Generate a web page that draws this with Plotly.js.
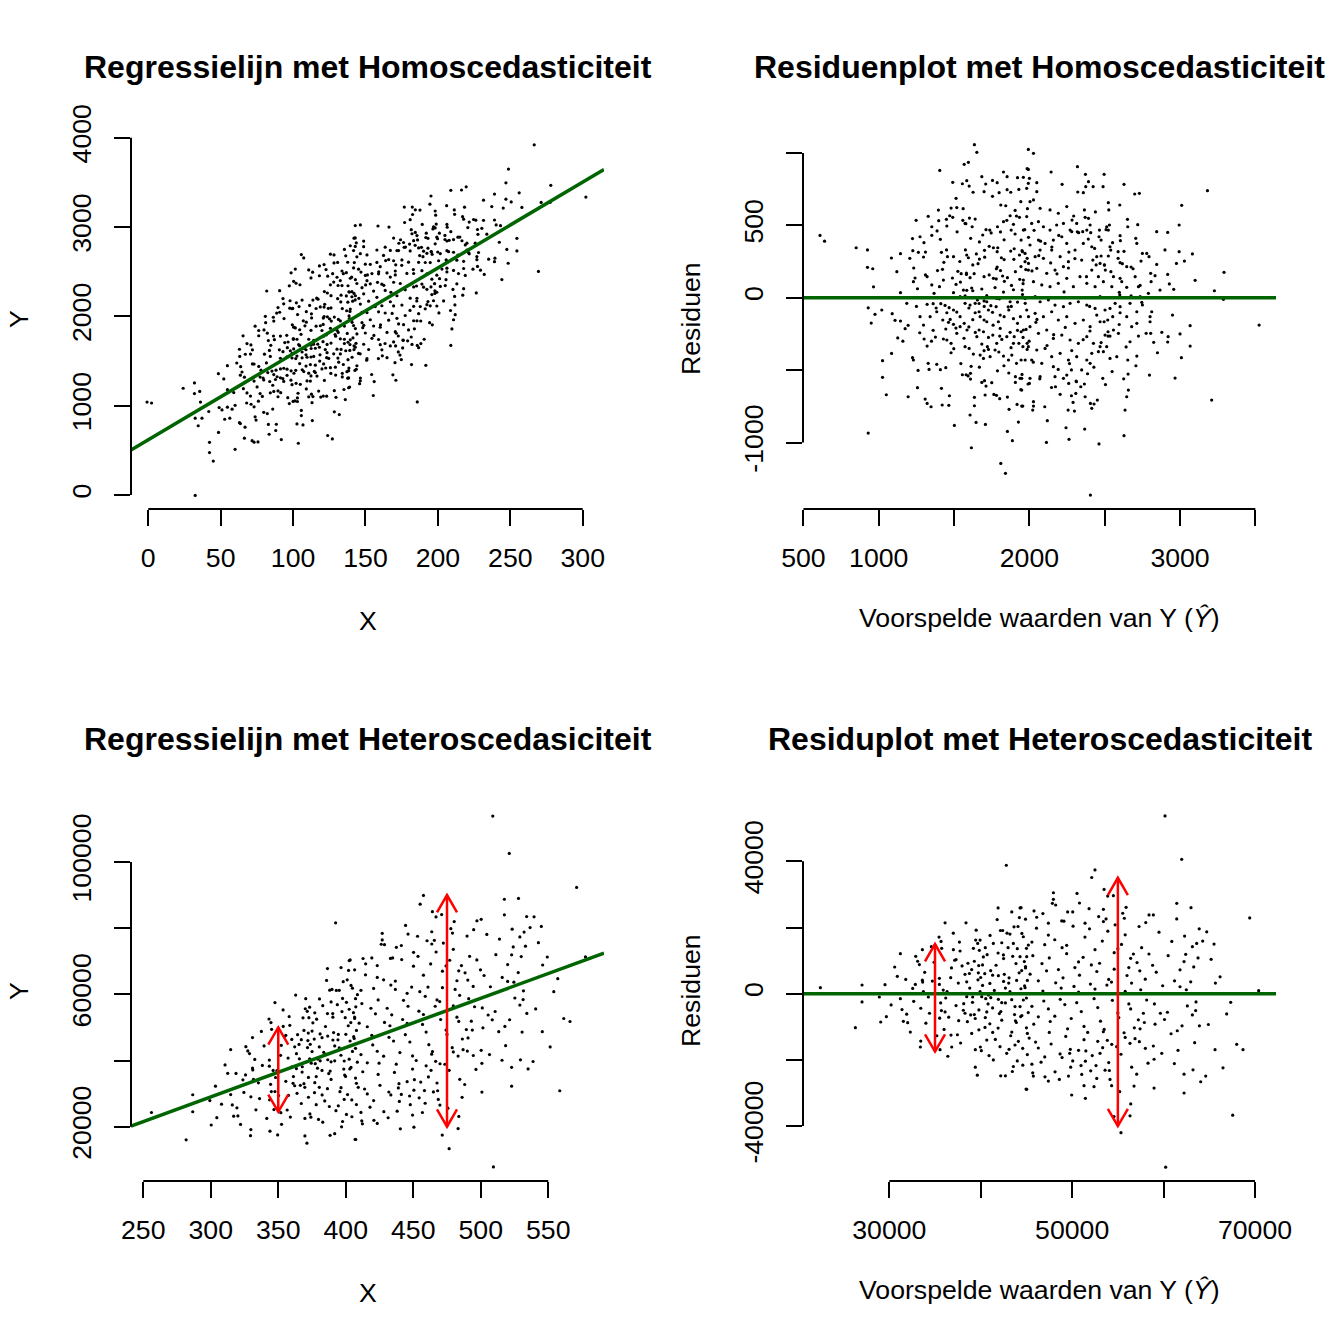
<!DOCTYPE html>
<html>
<head>
<meta charset="utf-8">
<script src="https://cdn.plot.ly/plotly-3.0.1.min.js"></script>
<style>html,body{margin:0;padding:0;background:#fff;}#chart{width:1344px;height:1344px;}</style>
</head>
<body>
<div id="chart"></div>
<script>
// ---------------- DATA ----------------
// Homoscedastic model: fitted values (Ŷ) and residuals
const homoFitted = [
610,640,850,925,925,960,965,930,975,950,1020,930,1025,1025,1050,1085,1089,1108,1126,1144,
1175,1195,1144,1084,1144,1206,1226,1248,1263,1297,1310,1328,1224,1274,1352,1387,1398,1409,1449,1452,
1471,1480,1491,1513,1560,1558,1578,1602,1620,1640,1232,1241,1257,1310,1321,1390,1423,1416,1432,1456,
1496,1321,1361,1381,1412,1440,1467,1452,1474,1496,1518,1425,1463,1445,1429,1452,1480,1498,1518,1496,
1540,1567,1586,1598,1624,1598,1640,1666,1272,1301,1321,1376,1361,1224,1230,1261,1328,1334,1385,1409,
1445,1257,1195,1308,1321,1347,1416,1421,1465,1469,1502,1555,1580,1609,1613,1609,1635,1635,1606,1646,
1615,1684,1702,1706,1708,1750,1764,1781,1803,1810,1841,1854,1865,1887,1854,1863,1907,1918,1927,1943,
1938,1949,1991,1972,1985,1635,1651,1567,1595,1405,1491,1555,1584,1600,1684,1710,1755,1786,1828,1852,
1852,1799,1755,1699,1626,1985,2000,1921,1930,1876,1810,1843,1943,1987,1905,1872,1914,1934,1828,1850,
1788,1808,1737,1746,1690,1879,1894,1969,1994,1573,1518,1396,1352,1573,1496,1513,1542,1562,1584,1617,
1624,1666,1684,1699,1717,1744,1772,1801,1828,1859,1894,1921,1954,1489,1525,1547,1582,1606,1633,1624,
1668,1699,1733,1761,1786,1808,1834,1854,1881,1907,1936,1958,1976,1994,1584,1595,1648,1702,1733,1761,
1786,1814,1832,1876,1899,1934,1954,1985,1573,1606,1640,1673,1699,1728,1755,1779,1806,1832,1863,1894,
1921,1945,1978,1666,1695,1728,1757,1783,1817,1850,1872,1899,1930,1958,1985,1673,1699,1728,1739,1772,
1797,1828,1861,1883,1914,1945,1573,1600,1628,1695,1721,1385,1352,1403,1429,1367,1230,1186,1274,1297,
1341,1540,1655,1783,1872,1972,1717,1540,1651,1806,1894,1994,1717,1794,
1993,2027,1993,1960,1993,2049,1982,2049,2027,2004,2144,2217,2319,2372,2392,2423,2374,2321,2358,2496,
2489,2628,2699,2730,2600,2524,2527,2438,2365,2294,2283,2270,2281,2327,2354,2370,2392,2403,2381,2407,
2465,2462,2476,2513,2524,2531,2651,2653,2719,2602,2604,2535,2540,2524,2476,2443,2469,2498,2504,2589,
2589,2602,2675,2706,2713,2750,2779,2794,2741,2805,2834,2845,2918,2845,2994,3011,3182,2994,2976,3029,
3082,2918,2929,2958,2867,2808,2790,2735,2746,2675,2602,2613,2646,2597,3292,3228,3288,3525,3210,3067,
3067,3009,2967,2797,2921,2918,2879,2825,2805,2775,2812,2801,2801,2713,2724,2713,2668,2653,2657,2646,
2635,2628,2655,2602,2535,2553,2520,2496,2469,2502,2522,2469,2491,2458,2535,2580,2487,2462,2451,2429,
2414,2405,2367,2370,2341,2365,2312,2279,2243,2263,2299,2257,2290,2308,2279,2261,2248,2204,2173,2119,
2113,2102,2027,2027,2022,1956,2000,2004,1949,1949,2405,
1982,2015,2060,2093,2137,2181,2215,2159,2104,2060,2004,1971,2038,2093,2148,2204,2259,2226,2170,2115,
2049,1993,1960,2027,2082,2137,2192,2248,2292,2336,2381,2436,2491,2547,1971,2038,2071,2126,2170,2226,
2270,2325,2381,2436,1982,2038,2093,2148,2192,2248,2303,2358,2403,1960,2004,2060,2115,2159,2215,2270,
2325,2381,2425,1993,2049,2104,2148,2204,2259,2314,2381,2414,2015,2082,2071,2159,2226,2170,2347,2403,
2513,2535,2558,2591,2447,2502,2569,2602,2646,2679,2713,2668,2735,2469,2558,2646,2702,2724,2414,2458,
2347,2303,2248,2358,2414,2447,2192,2137,2071,2248,2314,1960,1945,1971,1952,1940,1957,2226,2071,
1520,1575,1610,1668,1712,1790,1832,1905,1951,2031,2074,2149,2195,2262,2318,2391,2433,2509,2552,2628,
1538,1582,1659,1703,1781,1822,1897,1944,2017,2062,2141,2183,2259,2302,2379,2421,2498,2541,2617,2688,
1512,1566,1641,1684,1759,1803,1878,1921,1998,2043,2117,2161,2238,2281,2357,2402,2476,2522,2596,2642,
1545,1593,1668,1712,1788,1831,1907,1951,2026,2069,2147,2191,2266,2310,2386,2428,2505,2549,2626,2707,
1450,1480,1350,1300,1250,1160,1120,2750,2850,2900,3000,3100,2950,1880,2230,2400,1700,2600,1780,2050
];
const homoResid = [
430,390,345,330,210,200,75,-70,-115,-175,-85,-935,-435,-550,-670,-385,-110,-156,-278,-161,
-214,-191,35,274,304,272,325,534,313,281,315,562,408,421,431,461,532,403,541,495,
566,619,555,686,615,534,511,550,490,543,205,136,62,157,145,187,196,313,244,283,
283,-46,-41,-71,-41,-53,-69,-104,-150,-85,-99,-154,-170,-216,-285,-292,-315,-352,-246,-184,
-131,-177,-223,-202,-152,-71,-39,-97,-242,-285,-334,-272,-225,-414,-430,-502,-453,-495,-460,-497,
-483,-621,-684,-700,-730,-753,-626,-741,-743,-677,-882,-532,-532,-522,-474,-562,-688,-746,-810,-861,
-1036,-585,-573,-672,-875,-587,-668,-674,-697,-1144,-1213,-686,-771,-987,-923,-520,-545,-737,-859,-635,
-557,-748,-596,-430,-357,1057,1004,921,935,879,797,787,808,771,836,785,810,794,868,836,
746,725,700,732,728,891,824,829,748,728,640,635,663,615,603,566,564,555,525,534,
490,454,467,447,433,467,507,470,417,513,622,605,490,12,35,92,108,53,51,67,
48,-40,60,-22,14,-55,70,-8,39,-63,55,-30,22,136,182,166,161,138,166,226,
267,145,157,134,212,187,113,138,85,180,127,97,194,237,295,276,302,327,355,345,
318,276,263,322,338,295,318,272,-39,-51,-104,-131,-154,-85,-101,-62,-120,-131,-85,-145,
-177,-235,-219,-223,-235,-274,-258,-315,-288,-269,-239,-269,-315,-274,-315,-396,-366,-357,-407,-361,
-375,-403,-430,-396,-453,-430,-338,-350,-389,-419,-338,-97,88,76,122,30,111,-39,-131,-189,
-131,7,-16,-5,-28,-39,-28,-200,-269,-212,-315,-131,-166,-166,
1024,997,886,831,790,794,755,732,675,663,868,783,905,852,801,767,767,730,725,852,
767,783,716,721,640,656,606,592,606,564,536,467,456,449,456,555,548,502,467,449,
467,421,398,490,467,502,541,490,504,428,394,352,329,288,288,226,237,226,191,318,
272,242,212,410,375,306,306,283,253,168,152,230,451,456,502,638,739,318,237,253,
302,161,95,58,53,111,30,85,-32,12,134,111,72,37,175,48,-11,-189,-707,-193,
-334,-414,-555,-534,-269,-306,-239,-308,-246,-246,-97,-131,-166,-177,-265,-403,-304,-430,-638,-684,
-776,-953,-527,-104,-74,-131,-154,-166,-166,-258,-235,-338,-373,-373,-419,-407,-557,-1010,-707,-734,
-764,-730,-907,-684,-615,-596,-580,-677,-898,-978,-783,-776,-723,-661,-499,-592,-534,-667,-615,-849,
-999,-753,-748,-718,-776,-748,-592,-557,-557,-638,-1363,
560,513,525,490,467,502,421,398,375,398,364,306,283,272,329,283,249,214,191,168,
203,191,122,111,88,76,99,134,76,145,99,76,111,76,-5,7,-28,-16,-51,-62,
-39,-28,-51,-74,-85,-108,-131,-97,-154,-131,-177,-154,-200,-223,-200,-246,-223,-281,-258,-292,
-315,-269,-315,-338,-361,-350,-407,-384,-430,-407,-430,-384,-430,-453,-545,-476,-557,-545,-499,-453,
-338,-265,-223,-246,-120,-85,-39,-62,-131,-200,-97,-39,7,7,145,214,145,76,191,145,
260,329,375,375,352,283,583,606,617,629,513,467,398,249,53,-131,-338,513,329,
455,330,410,385,470,345,400,440,325,465,390,350,430,315,455,405,340,470,380,320,
250,170,235,280,200,150,265,215,185,290,240,165,205,270,145,260,225,180,235,200,
-210,-280,-240,-320,-190,-265,-345,-225,-300,-170,-330,-255,-205,-365,-290,-230,-310,-265,-185,-340,
-455,-540,-480,-610,-505,-470,-585,-530,-445,-560,-620,-495,-455,-575,-525,-480,-600,-510,-560,-470,
330,-380,-300,380,-60,-300,180,-50,-380,330,-250,120,-120,-60,40,-60,-60,20,130,-150
];
// Heteroscedastic model: fitted values (Ŷ) and residuals
const heteroFitted = [
22460,27020,27020,28910,29530,26290,29060,29680,30590,30880,31210,31210,31390,31540,32010,31900,32670,32890,33290,33440,
33620,33620,33650,33730,33870,32560,32850,33440,33400,34270,34710,34900,35440,35660,35730,36100,35480,35480,35510,35550,
35620,35700,35990,36100,36170,36320,36500,36720,36750,36830,37010,37150,37300,37450,37550,37670,37740,37590,37960,38140,
38100,38280,38390,38470,38540,38760,39010,39120,39200,39300,39410,39410,39630,39450,39670,39740,39780,39850,39960,40070,
40110,40290,40440,40470,40550,40660,40910,41020,41090,41310,41490,41680,41900,41930,41930,42040,42190,42150,42300,42400,
42480,42580,42700,42800,42880,42990,43060,43200,43280,43390,43460,43570,43640,43750,43860,43930,44000,44080,44120,44230,
44300,44370,44480,44590,44660,44770,44850,44960,45030,45100,45210,
38800,39700,40200,41000,41300,42500,43100,44400,45100,
39100,39800,40800,41300,42200,42700,43700,44300,45200,
39400,40500,41000,41900,42300,43400,43900,45000,
39300,40200,40700,41900,42500,43500,44000,44900,
39930,41380,43570,44660,44300,41750,43200,40840,39930,38470,37920,38280,39010,40660,42110,43750,42840,41380,
60160,61980,52500,52140,53490,53890,54510,50530,47950,47950,47840,44410,45830,46120,49510,50060,51850,51410,48860,47400,
53420,53710,53420,55530,55710,58410,58880,58050,57320,61440,61440,63000,64720,64280,63620,63150,65520,63770,63300,62420,
62240,62970,62490,61800,66180,65670,70400,69420,67340,68000,68690,67560,65630,64610,64060,63220,62240,62240,61580,61180,
62020,60820,63920,63510,63150,63550,60420,59650,59070,59800,58960,58880,58960,60230,58150,58010,58300,57350,56880,56510,
57060,56410,56330,56770,55340,54580,54320,54140,54070,54870,55340,56330,55680,56800,57430,57240,57790,52690,52390,51450,
49950,52030,51050,49840,48600,47030,45760,45690,45030,46600,48130,48680,49730,50060,50970,51450,52610,53050,53340,53410,53850,54330,
44500,45600,46100,47400,48100,49400,50100,51400,51900,53300,53900,55400,55800,
45000,45700,47000,47500,48900,49400,50700,51200,52500,53000,54600,55000,56400,56700,
44900,45400,46700,47200,48500,49000,50300,50800,52100,52700,54000,54600,56000,56500,57400,
44800,46300,46800,48200,48800,50200,50700,52000,52500,53800,54300,55800,57500,
45000,45600,46900,47400,48700,49200,50500,51000,52400,52800,54400,55000,56200,
44500,45800,46300,47600,48100,49500,49900,51300,51700,53100,53500,55100,
45300,46000,47500,47700,49300,49800,51300,51500,52800,45100,47000,
58400,59200,60500,61200,59900,58800,57600,60900,61800,59000,57100,58000,60100,61500,62600,57900,56400,56200,62300,59500,
44900,46800,48200,49100,50800,52900,54700,55900,45600,47400,49600,51300,53600,55200,46300,48900,50700,52200,54000,55800,
38600,39800,40500,41600,42300,43100,44200,38900,40000,41100,42700,43800,44600,39500,41800,43400,37300,36800,35900,34400,
30200,31800,32300,33100,34000,34600,35200,36400,37000,37800,63400,64900,66500,65200,66900,63900
];
const heteroResid = [
1830,2630,-2500,-1000,2730,-10260,-8550,-6940,8070,5250,12100,-1500,-4800,-8350,-8750,-6200,-2300,11300,8800,-4400,
13300,4100,3500,600,6450,1600,2800,-14300,-16100,-1000,3800,9500,17100,15800,13700,21400,4650,2800,-7400,-16900,
-2800,-5100,-10800,-5500,-1300,600,-7100,4850,-12500,-16100,13300,10100,10300,-12400,3200,15600,12900,-8150,8400,-3000,
-5000,5850,21400,3600,-8450,6100,7300,-1000,13700,-6300,-16900,-22200,-24600,16200,15200,6300,8500,13100,-16100,-17200,
-900,11100,6050,-10200,-1500,-5500,-18700,17600,6950,-11700,1000,8600,25900,5450,-1700,-6000,-24800,19100,-2700,19100,
11700,5850,-24800,38800,18300,13900,3200,18000,-12700,-1800,-23500,-22000,20200,-3900,9100,4000,-20300,20300,-14400,23000,
25900,-6900,7000,-16500,-1900,9700,1800,-28800,11200,-12000,14700,
1700,4200,2500,3100,5600,3700,4800,1500,4000,
-2600,-4900,-3100,-4300,-5400,-2800,-6300,-3900,-5700,
-7500,-7200,-9100,-10400,-8000,-11600,-8700,-10300,
9800,8700,11800,12300,10600,11300,13600,7800,
16200,15200,15200,17200,11200,100,600,-400,600,-900,100,-5900,-12000,-14000,-16000,-15500,-18000,-20000,
53700,40600,37400,35100,31500,29500,29600,30300,30500,28500,27300,26000,25000,23100,24700,24700,25700,21300,22000,21300,
25500,22600,21800,24300,22800,23800,23800,21500,20300,27300,22600,26000,18700,15900,15200,14200,15000,10800,8100,11900,
9700,3600,1200,2100,5100,3200,900,22900,-2600,-15300,-16900,-36700,-16900,-24900,-26600,-23000,-24300,-30000,-17100,-21100,
-9700,-12100,-9700,-5100,-6400,-2500,-5600,-5900,-9200,-18000,-19800,-15800,-28500,-52400,-1900,-16500,-21000,-14500,-13600,-22200,
-24300,-33300,-36900,-27900,-41980,-37100,-27800,-25900,-23200,-16000,-18300,-15000,-11800,-10300,-10600,-7900,-5900,-25600,-28100,-31600,
-30600,-23300,-24400,-22200,-25900,-25100,-24900,-23900,-28900,-20700,-23600,-18200,-18000,-20300,-21700,-20400,-21700,-18000,-16300,-11500,-14100,-15300,
18200,15600,19800,17700,16300,14600,20400,17100,19600,15900,18900,14900,17800,
13700,11500,14800,10800,13900,12100,9600,11000,13300,9200,12400,13600,10700,12000,
8200,5900,9100,6900,7300,4800,7900,5600,8700,6700,4300,7400,5500,3200,6900,
2400,3900,800,3300,1700,2200,500,2900,1400,2600,3500,700,1200,
-1300,-3800,-2200,-4600,-1700,-3300,-2700,-5400,-1500,-4200,-2000,-5800,-3100,
-6600,-9200,-7000,-8400,-6800,-10600,-7500,-9900,-11700,-8300,-10800,-7200,
-13400,-14600,-11700,-15200,-12900,-16800,-13900,-17300,-14400,-18400,-19100,
12000,6500,11500,3900,2400,8600,13900,15800,7200,-3100,9400,4400,-7800,-11200,-3700,-8700,-4600,7900,17400,18600,
22500,24200,26800,21900,27400,23300,20800,26100,-21300,-26400,-24900,-27800,-23100,-29600,-16400,-19300,-17100,-18700,-20800,-13200,
9200,-10900,13900,-13800,15400,-16800,6300,-6400,4900,-1200,1700,-8200,-21600,19200,22400,24700,-3600,7800,1100,-5900,
-3400,4300,-11600,9800,-8900,14200,-12700,-18900,18300,-14900,-14800,-9300,-22400,10400,-6100,19600
];
// fitted regression lines: [intercept, slope]
const homoCoef = [618, 9.62];
const heteroCoef = [-15718, 149.1];
// red arrows (spread of Y around the line)
const arrowRegX = [350, 475];
const arrowRegLow = [24500, 20000];
const arrowRegHigh = [50000, 90000];
const arrowResX = [35000, 55000];
const arrowResLow = [-17500, -40000];
const arrowResHigh = [15000, 35000];
// tick values and labels
const p1XTicks = [0, 50, 100, 150, 200, 250, 300];
const p1YTicks = [0, 1000, 2000, 3000, 4000];
const p2XTicks = [500, 1000, 1500, 2000, 2500, 3000, 3500];
const p2XLabels = ['500', '1000', '', '2000', '', '3000', ''];
const p2YTicks = [-1000, -500, 0, 500, 1000];
const p2YLabels = ['-1000', '', '0', '500', ''];
const p3XTicks = [250, 300, 350, 400, 450, 500, 550];
const p3YTicks = [20000, 40000, 60000, 80000, 100000];
const p3YLabels = ['20000', '', '60000', '', '100000'];
const p4XTicks = [30000, 40000, 50000, 60000, 70000];
const p4XLabels = ['30000', '', '50000', '', '70000'];
const p4YTicks = [-40000, -20000, 0, 20000, 40000];
const p4YLabels = ['-40000', '', '0', '', '40000'];
const titles = ['Regressielijn met Homoscedasticiteit', 'Residuenplot met Homoscedasticiteit',
                'Regressielijn met Heteroscedasiciteit', 'Residuplot met Heteroscedasticiteit'];
const xLabels = ['X', 'Voorspelde waarden van Y (<i>Ŷ</i>)', 'X', 'Voorspelde waarden van Y (<i>Ŷ</i>)'];
const yLabels = ['Y', 'Residuen', 'Y', 'Residuen'];

if (homoFitted.length !== homoResid.length) throw new Error('homo length mismatch ' + homoFitted.length + ' ' + homoResid.length);
if (heteroFitted.length !== heteroResid.length) throw new Error('hetero length mismatch ' + heteroFitted.length + ' ' + heteroResid.length);

// observed X and Y reconstructed from fitted value + residual
const homoX = homoFitted.map(f => (f - homoCoef[0]) / homoCoef[1]);
const homoY = homoFitted.map((f, i) => f + homoResid[i]);
const heteroX = heteroFitted.map(f => (f - heteroCoef[0]) / heteroCoef[1]);
const heteroY = heteroFitted.map((f, i) => f + heteroResid[i]);

// ---------------- LAYOUT ----------------
const FONT = 'Liberation Sans, Arial, Helvetica, sans-serif';
const W = 1344, H = 1344;
const colPx = [[131, 604], [803, 1276]];
const rowPx = [[130, 509], [802, 1181]];
const xDom = c => [colPx[c][0] / W, colPx[c][1] / W];
const yDom = r => [1 - rowPx[r][1] / H, 1 - rowPx[r][0] / H];

const panels = [
  {id: '', col: 0, row: 0, xr: [-11.9, 314.7], yr: [-157, 4087], xt: p1XTicks, xl: p1XTicks.map(String), yt: p1YTicks, yl: p1YTicks.map(String)},
  {id: '2', col: 1, row: 0, xr: [497, 3637], yr: [-1459, 1158], xt: p2XTicks, xl: p2XLabels, yt: p2YTicks, yl: p2YLabels},
  {id: '3', col: 0, row: 1, xr: [240.9, 591.3], yr: [3590, 118126], xt: p3XTicks, xl: p3XTicks.map(String), yt: p3YTicks, yl: p3YLabels},
  {id: '4', col: 1, row: 1, xr: [20561, 72297], yr: [-56586, 57915], xt: p4XTicks, xl: p4XLabels, yt: p4YTicks, yl: p4YLabels}
];

const layout = {
  width: W, height: H, margin: {l: 0, r: 0, t: 0, b: 0, pad: 0},
  paper_bgcolor: '#fff', plot_bgcolor: '#fff', showlegend: false,
  font: {family: FONT, size: 26.67, color: '#000'},
  annotations: [], shapes: []
};

function baseAxis() {
  return {
    autorange: false, tickmode: 'array', ticks: 'outside', ticklen: 16, tickwidth: 2, tickcolor: '#000',
    showline: false, showgrid: false, zeroline: false, fixedrange: true,
    tickfont: {family: FONT, size: 26.67, color: '#000'}
  };
}

panels.forEach((p, k) => {
  const xd = xDom(p.col), yd = yDom(p.row);
  layout['xaxis' + p.id] = Object.assign(baseAxis(), {
    domain: xd, range: p.xr, anchor: 'y' + p.id, tickvals: p.xt, ticktext: p.xl, tickangle: 0, ticklabelstandoff: 9
  });
  layout['yaxis' + p.id] = Object.assign(baseAxis(), {
    domain: yd, range: p.yr, anchor: 'x' + p.id, tickvals: p.yt, ticktext: p.yl, tickangle: -90, ticklabelstandoff: 12
  });
  const px = v => xd[0] + (v - p.xr[0]) / (p.xr[1] - p.xr[0]) * (xd[1] - xd[0]);
  const py = v => yd[0] + (v - p.yr[0]) / (p.yr[1] - p.yr[0]) * (yd[1] - yd[0]);
  // R-style axis lines spanning first to last tick
  layout.shapes.push({type: 'line', xref: 'paper', yref: 'paper', x0: px(p.xt[0]), x1: px(p.xt[p.xt.length - 1]), y0: yd[0], y1: yd[0], line: {color: '#000', width: 2}});
  layout.shapes.push({type: 'line', xref: 'paper', yref: 'paper', x0: xd[0], x1: xd[0], y0: py(p.yt[0]), y1: py(p.yt[p.yt.length - 1]), line: {color: '#000', width: 2}});
  const cx = (xd[0] + xd[1]) / 2;
  const rowOff = p.row * 672;
  layout.annotations.push({xref: 'paper', yref: 'paper', x: cx, y: 1 - (67 + rowOff) / H, xanchor: 'center', yanchor: 'middle', showarrow: false,
    text: '<b>' + titles[k] + '</b>', font: {family: FONT, size: 32, color: '#000'}});
  layout.annotations.push({xref: 'paper', yref: 'paper', x: cx, y: 1 - ((p.col ? 618 : 621) + rowOff) / H, xanchor: 'center', yanchor: 'middle', showarrow: false,
    text: xLabels[k], font: {family: FONT, size: 26.67, color: '#000'}});
  layout.annotations.push({xref: 'paper', yref: 'paper', x: (19 + p.col * 672) / W, y: 1 - (319 + rowOff) / H, xanchor: 'center', yanchor: 'middle', showarrow: false,
    text: yLabels[k], textangle: -90, font: {family: FONT, size: 26.67, color: '#000'}});
});

// red double-headed arrows
const RED = '#ff0000';
function addArrow(xref, yref, x, lo, hi) {
  layout.shapes.push({type: 'line', xref: xref, yref: yref, x0: x, x1: x, y0: lo, y1: hi, line: {color: RED, width: 2.5}});
  layout.shapes.push({type: 'path', xref: xref, yref: yref, xsizemode: 'pixel', ysizemode: 'pixel', xanchor: x, yanchor: hi,
    path: 'M -10 -17.3 L 0 0 L 10 -17.3', fillcolor: 'rgba(0,0,0,0)', line: {color: RED, width: 2.5}});
  layout.shapes.push({type: 'path', xref: xref, yref: yref, xsizemode: 'pixel', ysizemode: 'pixel', xanchor: x, yanchor: lo,
    path: 'M -10 17.3 L 0 0 L 10 17.3', fillcolor: 'rgba(0,0,0,0)', line: {color: RED, width: 2.5}});
}
arrowRegX.forEach((x, i) => addArrow('x3', 'y3', x, arrowRegLow[i], arrowRegHigh[i]));
arrowResX.forEach((x, i) => addArrow('x4', 'y4', x, arrowResLow[i], arrowResHigh[i]));

// ---------------- TRACES ----------------
const GREEN = '#006400';
const dots = {color: '#000', size: 3.2, line: {width: 0}};
const lineOf = (p, coef) => ({x: p.xr, y: p.xr.map(v => coef[0] + coef[1] * v)});
const traces = [
  {type: 'scatter', mode: 'markers', x: homoX, y: homoY, xaxis: 'x', yaxis: 'y', marker: dots, hoverinfo: 'skip'},
  Object.assign({type: 'scatter', mode: 'lines', xaxis: 'x', yaxis: 'y', line: {color: GREEN, width: 3.5}}, lineOf(panels[0], homoCoef)),
  {type: 'scatter', mode: 'markers', x: homoFitted, y: homoResid, xaxis: 'x2', yaxis: 'y2', marker: dots, hoverinfo: 'skip'},
  {type: 'scatter', mode: 'lines', x: panels[1].xr, y: panels[1].xr.map(() => 0), xaxis: 'x2', yaxis: 'y2', line: {color: GREEN, width: 3.5}},
  {type: 'scatter', mode: 'markers', x: heteroX, y: heteroY, xaxis: 'x3', yaxis: 'y3', marker: dots, hoverinfo: 'skip'},
  Object.assign({type: 'scatter', mode: 'lines', xaxis: 'x3', yaxis: 'y3', line: {color: GREEN, width: 3.5}}, lineOf(panels[2], heteroCoef)),
  {type: 'scatter', mode: 'markers', x: heteroFitted, y: heteroResid, xaxis: 'x4', yaxis: 'y4', marker: dots, hoverinfo: 'skip'},
  {type: 'scatter', mode: 'lines', x: panels[3].xr, y: panels[3].xr.map(() => 0), xaxis: 'x4', yaxis: 'y4', line: {color: GREEN, width: 3.5}}
];

Plotly.newPlot('chart', traces, layout, {staticPlot: true, displayModeBar: false});
</script>
</body>
</html>
